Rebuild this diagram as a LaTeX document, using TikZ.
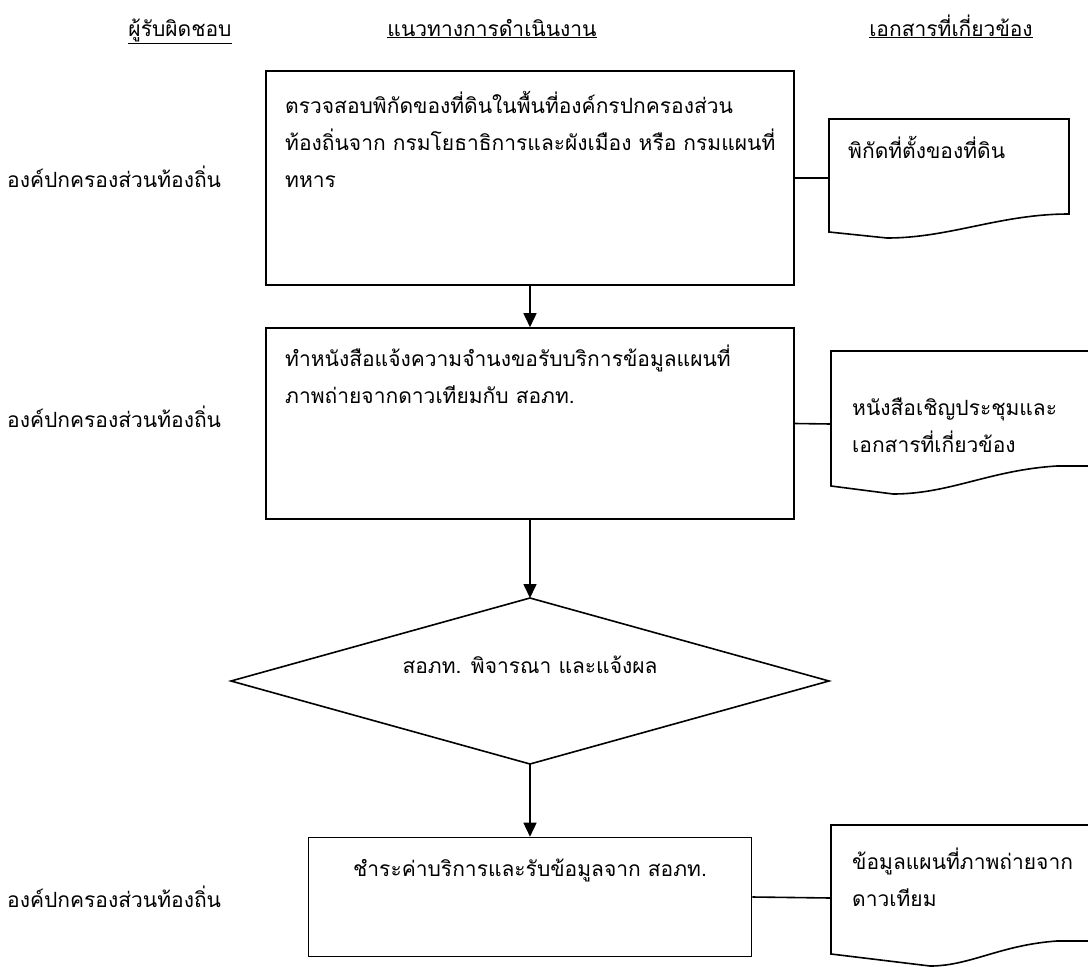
\documentclass[tikz,border=0pt]{standalone}
\usepackage{fontspec}
\setmainfont[Script=Thai]{Loma}
\usetikzlibrary{arrows.meta}
\begin{document}
\begin{tikzpicture}[x=1pt,y=-1pt,
  ln/.style={line width=1.6pt},
  box/.style={draw, line width=1.6pt, inner sep=0pt},
  txt/.style={font=\fontsize{21}{37}\selectfont, anchor=base west, inner sep=0pt, align=left},
  ctxt/.style={font=\fontsize{21}{37}\selectfont, anchor=base, inner sep=0pt},
  arr/.style={line width=1.6pt, -{Triangle[length=14pt,width=13pt]}},
  docshape/.style={draw, line width=1.6pt}
]
\useasboundingbox (0,0) rectangle (1088,967);
\clip (0,0) rectangle (1088,967);

% headers
\node[ctxt] (h1) at (180,36) {\underline{ผู้รับผิดชอบ}};
\node[ctxt] (h2) at (492,36) {\underline{แนวทางการดำเนินงาน}};
\node[ctxt] (h3) at (951,36) {\underline{เอกสารที่เกี่ยวข้อง}};

% left labels
\node[txt] (l1) at (7,187) {องค์ปกครองส่วนท้องถิ่น};
\node[txt] (l2) at (7,427) {องค์ปกครองส่วนท้องถิ่น};
\node[txt] (l3) at (7,907) {องค์ปกครองส่วนท้องถิ่น};

% process boxes
\node[box, minimum width=528pt, minimum height=214pt] (b1) at (530,178) {};
\node[txt] (t1) at (285,187) {ตรวจสอบพิกัดของที่ดินในพื้นที่องค์กรปกครองส่วน\\ท้องถิ่นจาก กรมโยธาธิการและผังเมือง หรือ กรมแผนที่\\ทหาร};

\node[box, minimum width=528pt, minimum height=191pt] (b2) at (530,423.5) {};
\node[txt] (t2) at (285,403) {ทำหนังสือแจ้งความจำนงขอรับบริการข้อมูลแผนที่\\ภาพถ่ายจากดาวเทียมกับ สอภท.};

% decision
\coordinate (dt) at (530,598);
\coordinate (dl) at (231,681);
\coordinate (dr) at (829,681);
\coordinate (db) at (530,764);
\draw[ln, line join=miter] (dt) -- (dr) -- (db) -- (dl) -- cycle;
\node[ctxt] (t3) at (530,673) {สอภท. พิจารณา และแจ้งผล};

\node[box, minimum width=443pt, minimum height=119pt] (b3) at (530,897) {};
\node[ctxt] (t4) at (530,876) {ชำระค่าบริการและรับข้อมูลจาก สอภท.};

% arrows
\draw[arr] (b1.south) -- (b2.north);
\draw[arr] (b2.south) -- (dt);
\draw[arr] (db) -- (b3.north);

% documents
\draw[docshape] (829,232) -- (829,119) -- (1069,119) -- (1069,214)
  .. controls (1000,214) and (950,238) .. (887,238) -- cycle;
\coordinate (d1) at (829,178);
\node[txt] (dt1) at (848,158) {พิกัดที่ตั้งของที่ดิน};

\draw[docshape] (831,486) -- (831,351) -- (1100,351) -- (1100,466) -- (1057,466)
  .. controls (990,470) and (950,494) .. (893,494) -- cycle;
\coordinate (d2) at (831,424);
\node[txt] (dt2) at (852,452) {หนังสือเชิญประชุมและ\\เอกสารที่เกี่ยวข้อง};

\draw[docshape] (831,954) -- (831,825) -- (1100,825) -- (1100,941) -- (1057,941)
  .. controls (1000,945) and (970,966) .. (930,966) -- cycle;
\coordinate (d3) at (831,898);
\node[txt] (dt3) at (852,906) {ข้อมูลแผนที่ภาพถ่ายจาก\\ดาวเทียม};

% connectors
\draw[ln] (b1.east) -- (d1);
\draw[ln] (b2.east) -- (d2);
\draw[ln] (b3.east) -- (d3);
\end{tikzpicture}
\end{document}
